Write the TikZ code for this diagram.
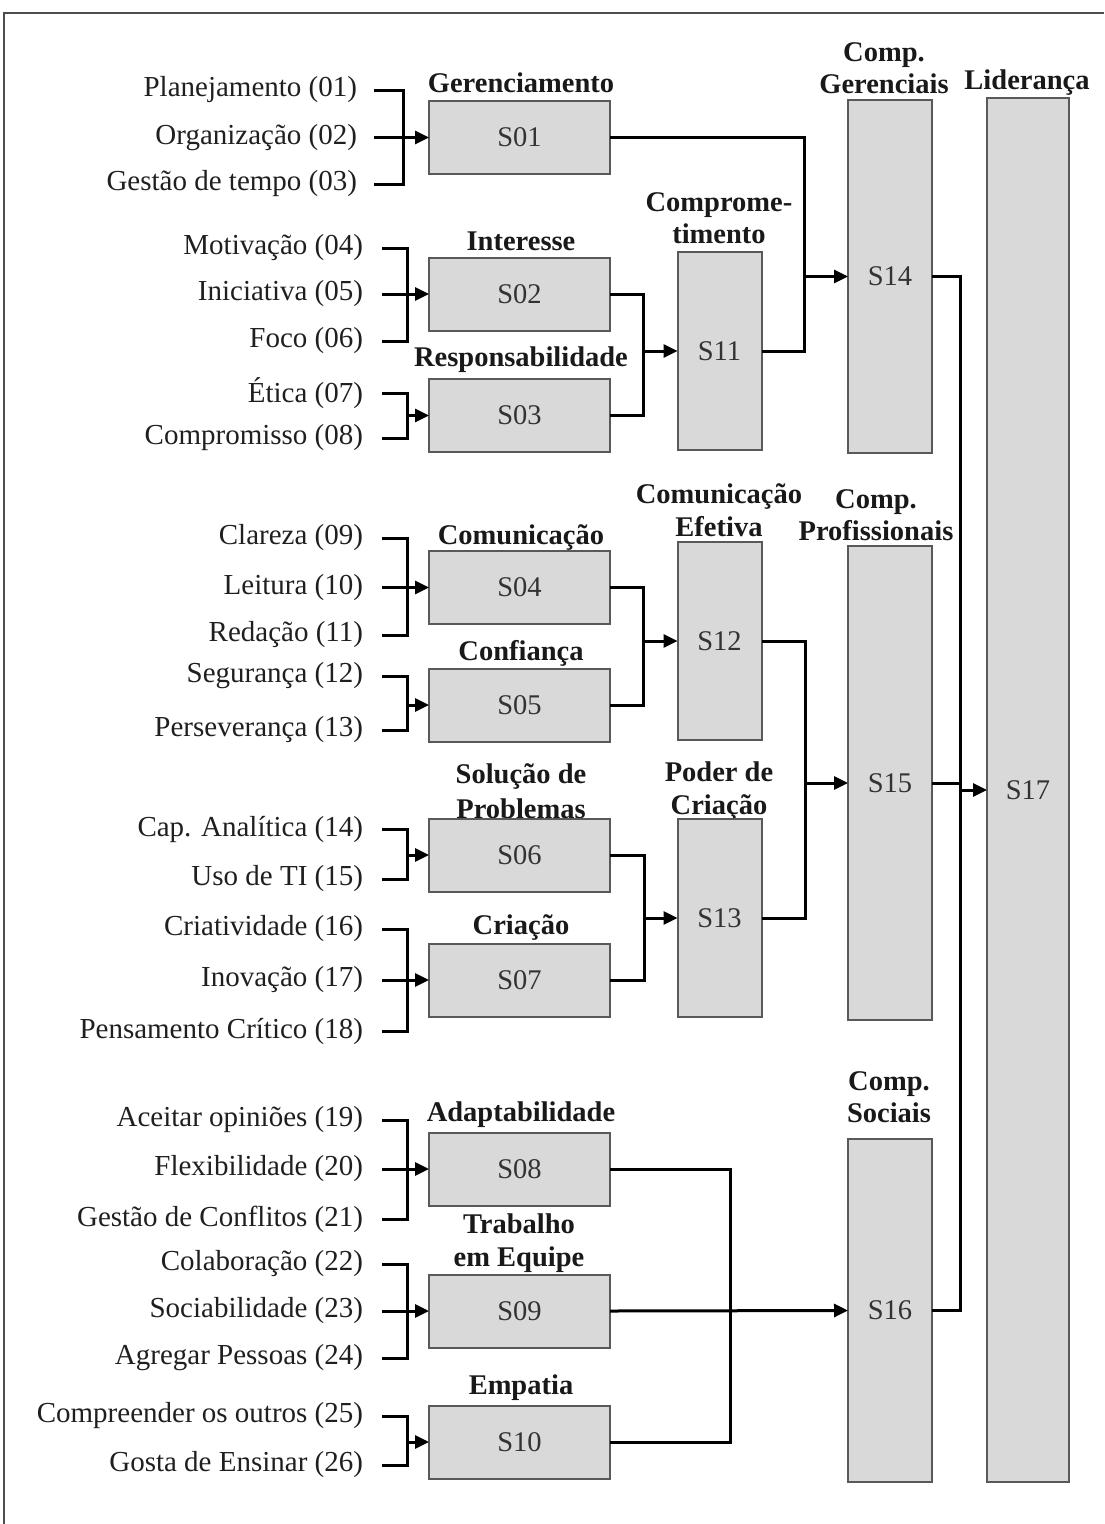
\documentclass[tikz,border=0pt]{standalone}
\usepackage{fontspec}
\setmainfont{Liberation Serif}
\usetikzlibrary{arrows.meta,calc}

\definecolor{boxfill}{HTML}{D9D9D9}
\definecolor{boxline}{HTML}{595959}
\definecolor{frameline}{HTML}{4D4D4D}

\begin{document}
\begin{tikzpicture}[x=1pt,y=-1pt,
  every node/.style={inner sep=0pt,outer sep=0pt},
  item/.style={font=\fontsize{29}{33}\selectfont,anchor=east,text=black!88},
  head/.style={font=\fontsize{28.5}{32.5}\selectfont\bfseries,align=center,text=black!90},
  blk/.style={draw=boxline,line width=2pt,fill=boxfill,font=\fontsize{28.5}{33}\selectfont,text=black!80},
  wide/.style={blk,minimum width=181pt,minimum height=73pt},
  tall/.style={blk,minimum width=84pt},
  conn/.style={line width=3pt,draw=black},
  tip/.style={conn,-{Triangle[length=14pt,width=13pt]}}
]
\useasboundingbox (0,0) rectangle (1104,1524);

% frame
\draw[frameline,line width=2pt] (4,1524) -- (4,13) -- (1104,13);

% ---- input items ----
\node[item] (l01) at (357,90)    {Planejamento (01)};
\node[item] (l02) at (357,137.5) {Organização (02)};
\node[item] (l03) at (357,184)   {Gestão de tempo (03)};
\node[item] (l04) at (363,248)   {Motivação (04)};
\node[item] (l05) at (363,294)   {Iniciativa (05)};
\node[item] (l06) at (363,341)   {Foco (06)};
\node[item] (l07) at (363,393)   {Ética (07)};
\node[item] (l08) at (363,438)   {Compromisso (08)};
\node[item] (l09) at (363,538)   {Clareza (09)};
\node[item] (l10) at (363,587.5) {Leitura (10)};
\node[item] (l11) at (363,635)   {Redação (11)};
\node[item] (l12) at (363,676)   {Segurança (12)};
\node[item] (l13) at (363,730)   {Perseverança (13)};
\node[item] (l14) at (363,829)   {Cap. Analítica (14)};
\node[item] (l15) at (363,879)   {Uso de TI (15)};
\node[item] (l16) at (363,929)   {Criatividade (16)};
\node[item] (l17) at (363,980)   {Inovação (17)};
\node[item] (l18) at (363,1031)  {Pensamento Crítico (18)};
\node[item] (l19) at (363,1120)  {Aceitar opiniões (19)};
\node[item] (l20) at (363,1169)  {Flexibilidade (20)};
\node[item] (l21) at (363,1219)  {Gestão de Conflitos (21)};
\node[item] (l22) at (363,1264)  {Colaboração (22)};
\node[item] (l23) at (363,1311)  {Sociabilidade (23)};
\node[item] (l24) at (363,1358)  {Agregar Pessoas (24)};
\node[item] (l25) at (363,1416)  {Compreender os outros (25)};
\node[item] (l26) at (363,1465)  {Gosta de Ensinar (26)};

% ---- headings (drawn first so the boxes sit on top) ----
\node[head] (h01) at (521,83)   {Gerenciamento};
\node[head] (h02) at (521,241)  {Interesse};
\node[head] (h03) at (521,360)  {Responsabilidade};
\node[head] (h04) at (521,537)  {Comunicação};
\node[head] (h05) at (521,653)  {Confiança};
\node[head] (h06) at (521,791)  {Solução de\\[3pt]Problemas};
\node[head] (h07) at (521,927)  {Criação};
\node[head] (h08) at (521,1115) {Adaptabilidade};
\node[head] (h09) at (519,1243) {Trabalho\\em Equipe};
\node[head] (h10) at (521,1388) {Empatia};
\node[head] (h11) at (719,218)  {Comprome-\\timento};
\node[head] (h12) at (719,510)  {Comunicação\\Efetiva};
\node[head] (h13) at (719,791)  {Poder de\\Criação};
\node[head] (h14) at (884,68)   {Comp.\\Gerenciais};
\node[head] (h15) at (876,515)  {Comp.\\Profissionais};
\node[head] (h16) at (889,1097) {Comp.\\Sociais};
\node[head] (h17) at (1027,83)  {Liderança};

% ---- skill blocks ----
\node[wide] (s01) at (519.5,137.5) {S01};
\node[wide] (s02) at (519.5,294)   {S02};
\node[wide] (s03) at (519.5,415.5) {S03};
\node[wide] (s04) at (519.5,587.5) {S04};
\node[wide] (s05) at (519.5,705)   {S05};
\node[wide] (s06) at (519.5,855)   {S06};
\node[wide] (s07) at (519.5,980)   {S07};
\node[wide] (s08) at (519.5,1169)  {S08};
\node[wide] (s09) at (519.5,1311)  {S09};
\node[wide] (s10) at (519.5,1442)  {S10};

\node[tall,minimum height=198pt] (s11) at (719.5,351) {S11};
\node[tall,minimum height=198pt] (s12) at (719.5,641) {S12};
\node[tall,minimum height=198pt] (s13) at (719.5,918) {S13};

\node[tall,minimum height=353pt] (s14) at (890,276.5)  {S14};
\node[tall,minimum height=474pt] (s15) at (890,783)    {S15};
\node[tall,minimum height=343pt] (s16) at (890,1310.5) {S16};
\node[tall,minimum width=82pt,minimum height=1384pt] (s17) at (1028,790) {S17};

% ---- brackets joining the items ----
\coordinate (b01) at (403,137.5);
\coordinate (b02) at (407,294);
\coordinate (b03) at (407,415.5);
\coordinate (b04) at (407,587.5);
\coordinate (b05) at (407,705);
\coordinate (b06) at (407,855);
\coordinate (b07) at (407,980);
\coordinate (b08) at (407,1169);
\coordinate (b09) at (407,1311);
\coordinate (b10) at (407,1442);

\draw[conn] ([xshift=17pt]l01.east) -| (b01) |- ([xshift=17pt]l03.east);
\draw[tip]  ([xshift=17pt]l02.east) -- (s01.west);

\draw[conn] ([xshift=19pt]l04.east) -| (b02) |- ([xshift=19pt]l06.east);
\draw[tip]  ([xshift=19pt]l05.east) -- (s02.west);

\draw[conn] ([xshift=19pt]l07.east) -| (b03) |- ([xshift=19pt]l08.east);
\draw[tip]  (b03) -- (s03.west);

\draw[conn] ([xshift=19pt]l09.east) -| (b04) |- ([xshift=19pt]l11.east);
\draw[tip]  ([xshift=19pt]l10.east) -- (s04.west);

\draw[conn] ([xshift=19pt]l12.east) -| (b05) |- ([xshift=19pt]l13.east);
\draw[tip]  (b05) -- (s05.west);

\draw[conn] ([xshift=19pt]l14.east) -| (b06) |- ([xshift=19pt]l15.east);
\draw[tip]  (b06) -- (s06.west);

\draw[conn] ([xshift=19pt]l16.east) -| (b07) |- ([xshift=19pt]l18.east);
\draw[tip]  ([xshift=19pt]l17.east) -- (s07.west);

\draw[conn] ([xshift=19pt]l19.east) -| (b08) |- ([xshift=19pt]l21.east);
\draw[tip]  ([xshift=19pt]l20.east) -- (s08.west);

\draw[conn] ([xshift=19pt]l22.east) -| (b09) |- ([xshift=19pt]l24.east);
\draw[tip]  ([xshift=19pt]l23.east) -- (s09.west);

\draw[conn] ([xshift=19pt]l25.east) -| (b10) |- ([xshift=19pt]l26.east);
\draw[tip]  (b10) -- (s10.west);

% ---- merges between levels ----
\coordinate (j1) at (804,276.5);
\draw[conn] (s01.east) -| (j1);
\draw[conn] (s11.east) -| (j1);
\draw[tip]  (j1) -- (s14.west);

\coordinate (j2) at (643,351);
\draw[conn] (s02.east) -| (j2);
\draw[conn] (s03.east) -| (j2);
\draw[tip]  (j2) -- (s11.west);

\coordinate (j3) at (643,641);
\draw[conn] (s04.east) -| (j3);
\draw[conn] (s05.east) -| (j3);
\draw[tip]  (j3) -- (s12.west);

\coordinate (j4) at (644,918);
\draw[conn] (s06.east) -| (j4);
\draw[conn] (s07.east) -| (j4);
\draw[tip]  (j4) -- (s13.west);

\coordinate (j5) at (805,783);
\draw[conn] (s12.east) -| (j5);
\draw[conn] (s13.east) -| (j5);
\draw[tip]  (j5) -- (s15.west);

\coordinate (j6) at (730,1311);
\draw[conn] (s08.east) -| (j6);
\draw[conn] (s10.east) -| (j6);
\draw[tip]  (s09.east) -- (s16.west);

\coordinate (j7) at (960,790);
\draw[conn] (s14.east) -| (j7);
\draw[conn] (s16.east) -| (j7);
\draw[conn] (s15.east) -- (s15.east -| j7);
\draw[tip]  (j7) -- (s17.west);
\end{tikzpicture}
\end{document}
